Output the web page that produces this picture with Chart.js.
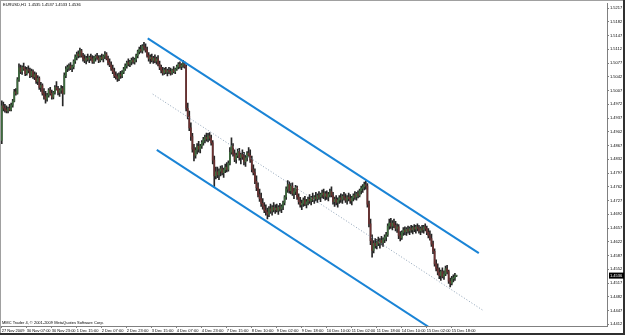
<!DOCTYPE html>
<html><head><meta charset="utf-8">
<script src="https://cdn.jsdelivr.net/npm/chart.js@4/dist/chart.umd.min.js"></script>
<style>html,body{margin:0;padding:0;background:#fff;overflow:hidden}canvas{display:block}</style>
</head><body>
<canvas id="c" width="625" height="335"></canvas>
<script>
// ---- text ----
const symbolTitle = "EURUSD,H1  1.4535 1.4537 1.4533 1.4536";
const copyrightText = "MMC Trader 4, \u00A9 2001-2009 MetaQuotes Software Corp.";

// ---- time axis labels (one every 16 H1 bars) ----
const timeLabels = ["27 Nov 2009","30 Nov 07:00","30 Nov 23:00","1 Dec 15:00","2 Dec 07:00","2 Dec 23:00","3 Dec 15:00","4 Dec 07:00","4 Dec 23:00","7 Dec 15:00","8 Dec 10:00","9 Dec 02:00","9 Dec 18:00","10 Dec 10:00","11 Dec 02:00","11 Dec 18:00","14 Dec 10:00","15 Dec 02:00","15 Dec 18:00"];
const barsPerLabel = 16;

// ---- price axis labels ----
const priceTicks = [1.4412,1.4447,1.4482,1.4517,1.4552,1.4587,1.4622,1.4657,1.4692,1.4727,1.4762,1.4797,1.4832,1.4867,1.4902,1.4937,1.4972,1.5007,1.5042,1.5077,1.5112,1.5147,1.5182,1.5217];
const priceMin = 1.44077, priceMax = 1.52289;
const barMin = -0.5, barMax = 387.34;

// ---- EURUSD H1 OHLC ----
const openP = [
1.4880,1.4968,1.4962,1.4958,1.4955,1.4962,1.4958,1.4970,1.4980,1.5004,
1.5000,1.5035,1.5065,1.5055,1.5066,1.5062,1.5050,1.5060,1.5058,1.5045,
1.5056,1.5042,1.5048,1.5030,1.5038,1.5015,1.5020,1.5000,1.4992,1.4985,
1.4995,1.5008,1.5000,1.4990,1.5002,1.5015,1.5010,1.5002,1.5008,1.5012,
1.5000,1.5045,1.5062,1.5066,1.5070,1.5064,1.5068,1.5082,1.5092,1.5100,
1.5096,1.5108,1.5095,1.5088,1.5084,1.5090,1.5086,1.5092,1.5088,1.5080,
1.5090,1.5094,1.5090,1.5084,1.5092,1.5088,1.5095,1.5100,1.5088,1.5078,
1.5072,1.5062,1.5055,1.5045,1.5042,1.5038,1.5048,1.5044,1.5054,1.5062,
1.5070,1.5078,1.5074,1.5080,1.5084,1.5080,1.5086,1.5096,1.5106,1.5112,
1.5108,1.5120,1.5116,1.5110,1.5096,1.5088,1.5092,1.5084,1.5090,1.5082,
1.5088,1.5074,1.5066,1.5058,1.5052,1.5060,1.5054,1.5058,1.5056,1.5052,
1.5060,1.5055,1.5062,1.5068,1.5074,1.5068,1.5072,1.5076,1.5068,1.4962,
1.4942,1.4912,1.4890,1.4858,1.4842,1.4855,1.4865,1.4858,1.4866,1.4875,
1.4882,1.4888,1.4884,1.4892,1.4886,1.4874,1.4830,1.4790,1.4800,1.4792,
1.4802,1.4808,1.4798,1.4805,1.4812,1.4806,1.4822,1.4850,1.4866,1.4846,
1.4832,1.4842,1.4852,1.4836,1.4844,1.4838,1.4826,1.4836,1.4848,1.4842,
1.4830,1.4806,1.4798,1.4776,1.4760,1.4742,1.4732,1.4720,1.4712,1.4702,
1.4698,1.4692,1.4706,1.4700,1.4710,1.4704,1.4708,1.4702,1.4710,1.4706,
1.4712,1.4722,1.4736,1.4756,1.4768,1.4752,1.4764,1.4745,1.4750,1.4760,
1.4736,1.4724,1.4716,1.4720,1.4728,1.4718,1.4724,1.4730,1.4726,1.4734,
1.4730,1.4736,1.4732,1.4740,1.4736,1.4742,1.4746,1.4738,1.4744,1.4736,
1.4742,1.4750,1.4740,1.4724,1.4730,1.4722,1.4728,1.4734,1.4730,1.4738,
1.4734,1.4728,1.4736,1.4732,1.4726,1.4734,1.4740,1.4736,1.4744,1.4740,
1.4752,1.4758,1.4762,1.4768,1.4764,1.4718,1.4668,1.4625,1.4600,1.4618,
1.4612,1.4622,1.4618,1.4626,1.4620,1.4628,1.4634,1.4640,1.4662,1.4670,
1.4662,1.4670,1.4664,1.4656,1.4660,1.4638,1.4632,1.4646,1.4652,1.4648,
1.4654,1.4650,1.4656,1.4652,1.4658,1.4654,1.4660,1.4656,1.4650,1.4656,
1.4652,1.4660,1.4656,1.4646,1.4638,1.4630,1.4616,1.4598,1.4566,1.4554,
1.4544,1.4536,1.4546,1.4534,1.4540,1.4554,1.4546,1.4522,1.4516,1.4528,
1.4530,1.4535];
const highP = [
1.4981,1.4978,1.4972,1.4968,1.4965,1.4972,1.4975,1.4985,1.5010,1.5012,
1.5040,1.5075,1.5072,1.5070,1.5077,1.5068,1.5066,1.5070,1.5064,1.5062,
1.5060,1.5055,1.5052,1.5045,1.5042,1.5028,1.5024,1.5012,1.5005,1.5000,
1.5012,1.5015,1.5008,1.5005,1.5020,1.5030,1.5018,1.5012,1.5020,1.5018,
1.5052,1.5068,1.5072,1.5075,1.5078,1.5072,1.5085,1.5098,1.5105,1.5108,
1.5115,1.5112,1.5102,1.5098,1.5094,1.5100,1.5095,1.5100,1.5096,1.5094,
1.5098,1.5102,1.5096,1.5096,1.5100,1.5098,1.5106,1.5104,1.5095,1.5088,
1.5080,1.5072,1.5064,1.5055,1.5050,1.5052,1.5056,1.5058,1.5066,1.5075,
1.5082,1.5088,1.5084,1.5090,1.5092,1.5090,1.5100,1.5110,1.5118,1.5122,
1.5124,1.5130,1.5126,1.5118,1.5104,1.5098,1.5100,1.5094,1.5098,1.5092,
1.5096,1.5082,1.5072,1.5066,1.5064,1.5066,1.5062,1.5066,1.5064,1.5062,
1.5068,1.5064,1.5072,1.5078,1.5080,1.5076,1.5084,1.5080,1.5072,1.4975,
1.4955,1.4925,1.4898,1.4870,1.4862,1.4872,1.4878,1.4870,1.4880,1.4888,
1.4894,1.4899,1.4898,1.4900,1.4894,1.4880,1.4840,1.4812,1.4812,1.4808,
1.4815,1.4816,1.4810,1.4820,1.4824,1.4828,1.4862,1.4887,1.4872,1.4856,
1.4848,1.4858,1.4860,1.4848,1.4856,1.4850,1.4842,1.4852,1.4862,1.4856,
1.4840,1.4818,1.4808,1.4790,1.4772,1.4756,1.4746,1.4732,1.4722,1.4716,
1.4708,1.4712,1.4718,1.4714,1.4722,1.4716,1.4718,1.4714,1.4720,1.4716,
1.4726,1.4740,1.4762,1.4778,1.4775,1.4770,1.4772,1.4758,1.4766,1.4764,
1.4744,1.4735,1.4728,1.4734,1.4738,1.4730,1.4736,1.4742,1.4738,1.4746,
1.4740,1.4748,1.4744,1.4750,1.4746,1.4754,1.4756,1.4750,1.4752,1.4748,
1.4756,1.4762,1.4748,1.4736,1.4740,1.4734,1.4740,1.4744,1.4742,1.4748,
1.4744,1.4740,1.4746,1.4742,1.4738,1.4744,1.4750,1.4748,1.4752,1.4756,
1.4764,1.4768,1.4774,1.4777,1.4770,1.4726,1.4680,1.4640,1.4625,1.4630,
1.4628,1.4634,1.4630,1.4636,1.4632,1.4640,1.4646,1.4668,1.4680,1.4682,
1.4676,1.4680,1.4674,1.4668,1.4666,1.4648,1.4650,1.4658,1.4660,1.4658,
1.4662,1.4660,1.4664,1.4662,1.4666,1.4664,1.4668,1.4664,1.4660,1.4664,
1.4664,1.4668,1.4662,1.4656,1.4650,1.4642,1.4624,1.4604,1.4576,1.4566,
1.4556,1.4550,1.4556,1.4548,1.4560,1.4562,1.4550,1.4530,1.4534,1.4538,
1.4542,1.4537];
const lowP = [
1.4872,1.4955,1.4952,1.4950,1.4950,1.4955,1.4955,1.4965,1.4978,1.4995,
1.4998,1.5030,1.5050,1.5048,1.5058,1.5045,1.5046,1.5052,1.5040,1.5042,
1.5038,1.5035,1.5025,1.5022,1.5010,1.5005,1.4995,1.4985,1.4975,1.4980,
1.4990,1.4995,1.4985,1.4986,1.4998,1.5008,1.4996,1.4992,1.5000,1.4968,
1.4998,1.5040,1.5055,1.5058,1.5060,1.5055,1.5062,1.5076,1.5085,1.5090,
1.5092,1.5092,1.5082,1.5078,1.5075,1.5082,1.5078,1.5084,1.5076,1.5076,
1.5082,1.5086,1.5078,1.5080,1.5085,1.5080,1.5088,1.5085,1.5072,1.5068,
1.5058,1.5050,1.5040,1.5036,1.5030,1.5032,1.5038,1.5040,1.5050,1.5058,
1.5064,1.5070,1.5068,1.5072,1.5076,1.5074,1.5080,1.5090,1.5100,1.5104,
1.5102,1.5110,1.5105,1.5092,1.5082,1.5076,1.5080,1.5076,1.5078,1.5074,
1.5070,1.5060,1.5052,1.5046,1.5048,1.5050,1.5044,1.5050,1.5046,1.5048,
1.5052,1.5050,1.5058,1.5062,1.5064,1.5060,1.5066,1.5064,1.4955,1.4935,
1.4905,1.4880,1.4850,1.4828,1.4835,1.4846,1.4850,1.4848,1.4860,1.4868,
1.4874,1.4878,1.4876,1.4880,1.4868,1.4820,1.4760,1.4782,1.4785,1.4780,
1.4790,1.4792,1.4786,1.4798,1.4800,1.4802,1.4818,1.4845,1.4840,1.4826,
1.4822,1.4836,1.4830,1.4820,1.4832,1.4818,1.4814,1.4828,1.4838,1.4824,
1.4800,1.4792,1.4770,1.4752,1.4736,1.4725,1.4712,1.4705,1.4696,1.4690,
1.4680,1.4686,1.4694,1.4690,1.4698,1.4694,1.4698,1.4692,1.4700,1.4696,
1.4704,1.4716,1.4730,1.4748,1.4746,1.4744,1.4740,1.4732,1.4742,1.4730,
1.4718,1.4710,1.4704,1.4712,1.4714,1.4708,1.4716,1.4720,1.4716,1.4724,
1.4720,1.4726,1.4722,1.4730,1.4724,1.4734,1.4732,1.4728,1.4730,1.4726,
1.4736,1.4736,1.4718,1.4712,1.4716,1.4710,1.4720,1.4722,1.4720,1.4728,
1.4722,1.4718,1.4726,1.4720,1.4716,1.4726,1.4730,1.4728,1.4734,1.4736,
1.4744,1.4748,1.4754,1.4756,1.4710,1.4660,1.4615,1.4583,1.4594,1.4606,
1.4604,1.4612,1.4606,1.4614,1.4610,1.4620,1.4624,1.4636,1.4654,1.4656,
1.4652,1.4658,1.4650,1.4646,1.4630,1.4624,1.4628,1.4638,1.4640,1.4638,
1.4644,1.4640,1.4646,1.4642,1.4648,1.4644,1.4650,1.4644,1.4640,1.4646,
1.4644,1.4650,1.4640,1.4632,1.4626,1.4610,1.4592,1.4560,1.4548,1.4538,
1.4528,1.4524,1.4530,1.4526,1.4536,1.4540,1.4516,1.4507,1.4512,1.4520,
1.4524,1.4533];
const closeP = [
1.4968,1.4962,1.4958,1.4955,1.4962,1.4958,1.4970,1.4980,1.5004,1.5000,
1.5035,1.5065,1.5055,1.5066,1.5062,1.5050,1.5060,1.5058,1.5045,1.5056,
1.5042,1.5048,1.5030,1.5038,1.5015,1.5020,1.5000,1.4992,1.4985,1.4995,
1.5008,1.5000,1.4990,1.5002,1.5015,1.5010,1.5002,1.5008,1.5012,1.5000,
1.5045,1.5062,1.5066,1.5070,1.5064,1.5068,1.5082,1.5092,1.5100,1.5096,
1.5108,1.5095,1.5088,1.5084,1.5090,1.5086,1.5092,1.5088,1.5080,1.5090,
1.5094,1.5090,1.5084,1.5092,1.5088,1.5095,1.5100,1.5088,1.5078,1.5072,
1.5062,1.5055,1.5045,1.5042,1.5038,1.5048,1.5044,1.5054,1.5062,1.5070,
1.5078,1.5074,1.5080,1.5084,1.5080,1.5086,1.5096,1.5106,1.5112,1.5108,
1.5120,1.5116,1.5110,1.5096,1.5088,1.5092,1.5084,1.5090,1.5082,1.5088,
1.5074,1.5066,1.5058,1.5052,1.5060,1.5054,1.5058,1.5056,1.5052,1.5060,
1.5055,1.5062,1.5068,1.5074,1.5068,1.5072,1.5076,1.5068,1.4962,1.4942,
1.4912,1.4890,1.4858,1.4842,1.4855,1.4865,1.4858,1.4866,1.4875,1.4882,
1.4888,1.4884,1.4892,1.4886,1.4874,1.4830,1.4790,1.4800,1.4792,1.4802,
1.4808,1.4798,1.4805,1.4812,1.4806,1.4822,1.4850,1.4866,1.4846,1.4832,
1.4842,1.4852,1.4836,1.4844,1.4838,1.4826,1.4836,1.4848,1.4842,1.4830,
1.4806,1.4798,1.4776,1.4760,1.4742,1.4732,1.4720,1.4712,1.4702,1.4698,
1.4692,1.4706,1.4700,1.4710,1.4704,1.4708,1.4702,1.4710,1.4706,1.4712,
1.4722,1.4736,1.4756,1.4768,1.4752,1.4764,1.4745,1.4750,1.4760,1.4736,
1.4724,1.4716,1.4720,1.4728,1.4718,1.4724,1.4730,1.4726,1.4734,1.4730,
1.4736,1.4732,1.4740,1.4736,1.4742,1.4746,1.4738,1.4744,1.4736,1.4742,
1.4750,1.4740,1.4724,1.4730,1.4722,1.4728,1.4734,1.4730,1.4738,1.4734,
1.4728,1.4736,1.4732,1.4726,1.4734,1.4740,1.4736,1.4744,1.4740,1.4752,
1.4758,1.4762,1.4768,1.4764,1.4718,1.4668,1.4625,1.4600,1.4618,1.4612,
1.4622,1.4618,1.4626,1.4620,1.4628,1.4634,1.4640,1.4662,1.4670,1.4662,
1.4670,1.4664,1.4656,1.4660,1.4638,1.4632,1.4646,1.4652,1.4648,1.4654,
1.4650,1.4656,1.4652,1.4658,1.4654,1.4660,1.4656,1.4650,1.4656,1.4652,
1.4660,1.4656,1.4646,1.4638,1.4630,1.4616,1.4598,1.4566,1.4554,1.4544,
1.4536,1.4546,1.4534,1.4540,1.4554,1.4546,1.4522,1.4516,1.4528,1.4530,
1.4535,1.4536];

// ---- equidistant channel anchors: [bar index, price] ----
const channelUpper = [[93.4, 1.5140], [305.3, 1.4593]];
const channelMiddle = [[96.6, 1.4998], [307.8, 1.4448]];
const channelLower = [[99.2, 1.4856], [305.3, 1.4322]];

// ---- build datasets ----
const barIdx = closeP.map((_, i) => i);
const wickData = barIdx.map(i => ({x: i, y: [lowP[i], highP[i]]}));
const bodyData = barIdx.map(i => ({x: i, y: [openP[i], closeP[i]]}));
const bodyColors = barIdx.map(i => closeP[i] >= openP[i] ? '#3d6b3d' : '#6b3030');
const toPts = a => a.map(p => ({x: p[0], y: p[1]}));

const FONT = 'Liberation Sans, Arial, sans-serif';

const framePlugin = {
  id: 'mtframe',
  beforeDraw(chart) {
    const c = chart.ctx;
    c.save(); c.fillStyle = '#ffffff'; c.fillRect(0, 0, chart.width, chart.height); c.restore();
  },
  afterDraw(chart) {
    const c = chart.ctx, a = chart.chartArea, ys = chart.scales.y;
    c.save();
    c.fillStyle = '#000';
    c.font = '4px ' + FONT;
    c.textBaseline = 'middle'; c.textAlign = 'left';
    c.fillText(symbolTitle, 3, 5);
    c.fillText(copyrightText, 2, 322.5);
    c.fillStyle = '#a0a0a0';
    c.fillRect(0, 0, chart.width, 1);
    c.fillRect(0, 0, 1, chart.height);
    c.fillStyle = '#303030';
    c.fillRect(chart.width - 2, 0, 2, chart.height);
    c.fillRect(0, chart.height - 2, chart.width, 2);
    const last = closeP[closeP.length - 1];
    const py = ys.getPixelForValue(last);
    c.fillStyle = '#000';
    c.fillRect(a.right + 2, py - 3, 15, 6);
    c.fillStyle = '#fff';
    c.fillText(last.toFixed(4), a.right + 3, py);
    c.restore();
  }
};

new Chart(document.getElementById('c').getContext('2d'), {
  type: 'bar',
  data: {
    datasets: [
      {type: 'line', data: toPts(channelUpper), borderColor: '#1a84d6', borderWidth: 2, pointRadius: 0, clip: 0, order: 0},
      {type: 'line', data: toPts(channelLower), borderColor: '#1a84d6', borderWidth: 2, pointRadius: 0, clip: 0, order: 0},
      {type: 'line', data: toPts(channelMiddle), borderColor: '#8fa3b8', borderWidth: 1, borderDash: [1, 2], pointRadius: 0, clip: 0, order: 1},
      {type: 'bar', data: bodyData, backgroundColor: bodyColors, barThickness: 1, grouped: false, minBarLength: 1, borderWidth: 0, order: 2},
      {type: 'bar', data: wickData, backgroundColor: '#262626', barThickness: 1, grouped: false, borderWidth: 0, order: 3}
    ]
  },
  options: {
    responsive: false, animation: false, devicePixelRatio: 1,
    layout: {padding: {left: 1, top: 2, right: 0, bottom: 0}},
    plugins: {legend: {display: false}, tooltip: {enabled: false}},
    scales: {
      x: {
        type: 'linear', min: barMin, max: barMax, offset: false,
        grid: {display: true, drawOnChartArea: false, tickLength: 2, color: '#808080', offset: false},
        border: {display: true, color: '#808080'},
        ticks: {autoSkip: false, maxRotation: 0, minRotation: 0, align: 'start', padding: 0,
          font: {family: FONT, size: 4}, color: '#000',
          callback: (v, i) => timeLabels[i]},
        afterBuildTicks: s => { s.ticks = timeLabels.map((_, i) => ({value: i * barsPerLabel})); },
        afterFit: s => { s.height = 9; }
      },
      y: {
        type: 'linear', position: 'right', min: priceMin, max: priceMax,
        grid: {display: true, drawOnChartArea: false, tickLength: 2, color: '#808080'},
        border: {display: true, color: '#808080'},
        ticks: {padding: 1, font: {family: FONT, size: 4}, color: '#000', callback: v => Number(v).toFixed(4)},
        afterBuildTicks: s => { s.ticks = priceTicks.map(v => ({value: v})); },
        afterFit: s => { s.width = 18; }
      }
    }
  },
  plugins: [framePlugin]
});
</script>
</body></html>
